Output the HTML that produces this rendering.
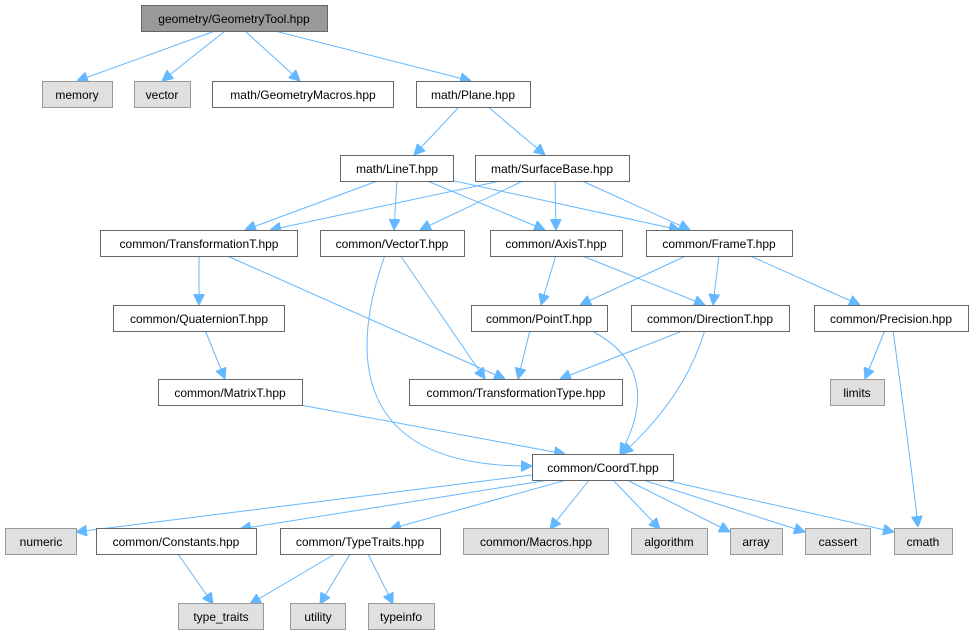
<!DOCTYPE html>
<html><head><meta charset="utf-8"><style>
html,body{margin:0;padding:0;background:#fff;}
svg{display:block;font-family:"Liberation Sans",Arial,sans-serif;font-size:12px;}
rect{stroke:#666;stroke-width:1;}
.w{fill:#fff;}
.g{fill:#e0e0e0;stroke:#999;}
.r{fill:#999;stroke:#666;}
path{fill:none;stroke:#63b8ff;stroke-width:1;}
text{text-anchor:middle;fill:#000;}
</style></head><body>
<svg width="974" height="635" viewBox="0 0 974 635" xmlns="http://www.w3.org/2000/svg">
<defs><marker id="a" viewBox="0 0 10 10" refX="10" refY="5" markerWidth="11" markerHeight="11" markerUnits="userSpaceOnUse" orient="auto"><path d="M0,0 L10,5 L0,10 z" style="fill:#63b8ff;stroke:#63b8ff"/></marker></defs>
<g marker-end="url(#a)">
<path d="M215,31 L77,81"/>
<path d="M225,31 L162,81"/>
<path d="M245,31 L300,81"/>
<path d="M275,31 L471,81"/>
<path d="M460,106 L414,155"/>
<path d="M487,106 L545,155"/>
<path d="M380,180 L245,230"/>
<path d="M397,180 L394,230"/>
<path d="M425,180 L545,230"/>
<path d="M450,180 L680,230"/>
<path d="M505,180 L270,230"/>
<path d="M525,180 L420,230"/>
<path d="M555,180 L556,230"/>
<path d="M580,180 L690,230"/>
<path d="M199,255 L199,305"/>
<path d="M225,255 L505,379"/>
<path d="M400,255 L485,379"/>
<path d="M385,255 C355,340 340,468 532,466"/>
<path d="M556,255 L541,305"/>
<path d="M580,255 L705,305"/>
<path d="M688,255 L580,305"/>
<path d="M719,255 L713,305"/>
<path d="M748,255 L860,305"/>
<path d="M205,330 L225,379"/>
<path d="M530,330 L518,379"/>
<path d="M590,330 C650,360 645,410 620,454"/>
<path d="M685,330 L560,379"/>
<path d="M705,330 C690,380 660,420 622,454"/>
<path d="M885,330 L865,379"/>
<path d="M893,330 C905,420 912,470 918,527"/>
<path d="M295,404 L565,454"/>
<path d="M540,474 L76,532"/>
<path d="M555,479 L240,529"/>
<path d="M570,479 L390,529"/>
<path d="M590,479 L550,529"/>
<path d="M612,479 L660,529"/>
<path d="M625,479 L730,532"/>
<path d="M640,479 L805,532"/>
<path d="M660,479 L894,532"/>
<path d="M178,554 L213,604"/>
<path d="M335,554 L250,604"/>
<path d="M350,554 L320,604"/>
<path d="M368,554 L393,604"/>
</g>
<rect class="r" x="141.5" y="5.5" width="186" height="26"/><text x="234" y="23">geometry/GeometryTool.hpp</text>
<rect class="g" x="42.5" y="81.5" width="70" height="26"/><text x="77" y="99">memory</text>
<rect class="g" x="134.5" y="81.5" width="56" height="26"/><text x="162" y="99">vector</text>
<rect class="w" x="212.5" y="81.5" width="181" height="26"/><text x="303" y="99">math/GeometryMacros.hpp</text>
<rect class="w" x="416.5" y="81.5" width="114" height="26"/><text x="473" y="99">math/Plane.hpp</text>
<rect class="w" x="340.5" y="155.5" width="113" height="26"/><text x="397" y="173">math/LineT.hpp</text>
<rect class="w" x="475.5" y="155.5" width="154" height="26"/><text x="552" y="173">math/SurfaceBase.hpp</text>
<rect class="w" x="100.5" y="230.5" width="197" height="26"/><text x="199" y="248">common/TransformationT.hpp</text>
<rect class="w" x="320.5" y="230.5" width="144" height="26"/><text x="392" y="248">common/VectorT.hpp</text>
<rect class="w" x="490.5" y="230.5" width="132" height="26"/><text x="556" y="248">common/AxisT.hpp</text>
<rect class="w" x="646.5" y="230.5" width="146" height="26"/><text x="719" y="248">common/FrameT.hpp</text>
<rect class="w" x="113.5" y="305.5" width="171" height="26"/><text x="199" y="323">common/QuaternionT.hpp</text>
<rect class="w" x="471.5" y="305.5" width="136" height="26"/><text x="539" y="323">common/PointT.hpp</text>
<rect class="w" x="631.5" y="305.5" width="158" height="26"/><text x="710" y="323">common/DirectionT.hpp</text>
<rect class="w" x="814.5" y="305.5" width="154" height="26"/><text x="891" y="323">common/Precision.hpp</text>
<rect class="w" x="158.5" y="379.5" width="144" height="26"/><text x="230" y="397">common/MatrixT.hpp</text>
<rect class="w" x="409.5" y="379.5" width="213" height="26"/><text x="516" y="397">common/TransformationType.hpp</text>
<rect class="g" x="830.5" y="379.5" width="54" height="26"/><text x="857" y="397">limits</text>
<rect class="w" x="532.5" y="454.5" width="141" height="26"/><text x="603" y="472">common/CoordT.hpp</text>
<rect class="g" x="5.5" y="528.5" width="71" height="26"/><text x="41" y="546">numeric</text>
<rect class="w" x="96.5" y="528.5" width="160" height="26"/><text x="176" y="546">common/Constants.hpp</text>
<rect class="w" x="280.5" y="528.5" width="160" height="26"/><text x="360" y="546">common/TypeTraits.hpp</text>
<rect class="g" x="463.5" y="528.5" width="145" height="26"/><text x="536" y="546">common/Macros.hpp</text>
<rect class="g" x="631.5" y="528.5" width="76" height="26"/><text x="669" y="546">algorithm</text>
<rect class="g" x="730.5" y="528.5" width="52" height="26"/><text x="756" y="546">array</text>
<rect class="g" x="805.5" y="528.5" width="65" height="26"/><text x="838" y="546">cassert</text>
<rect class="g" x="894.5" y="528.5" width="58" height="26"/><text x="923" y="546">cmath</text>
<rect class="g" x="178.5" y="603.5" width="85" height="26"/><text x="221" y="621">type_traits</text>
<rect class="g" x="290.5" y="603.5" width="55" height="26"/><text x="318" y="621">utility</text>
<rect class="g" x="368.5" y="603.5" width="66" height="26"/><text x="401" y="621">typeinfo</text>
</svg>
</body></html>
